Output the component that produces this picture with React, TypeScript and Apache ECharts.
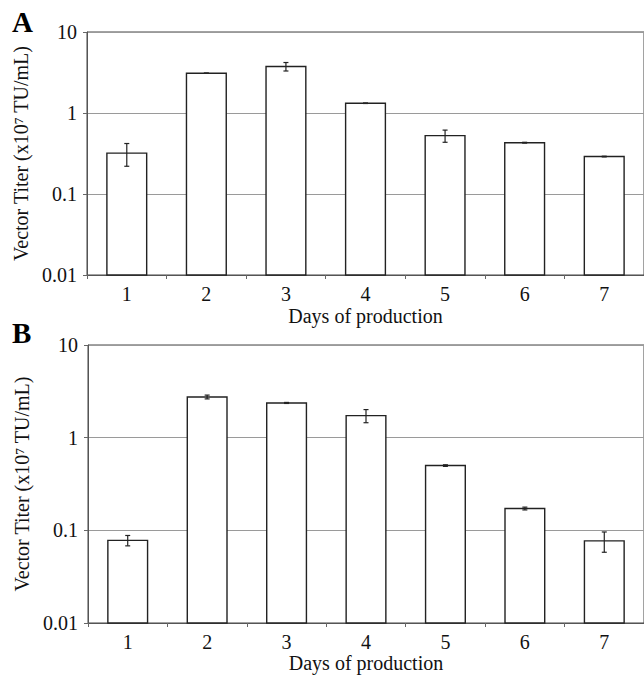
import React, { useEffect, useRef } from "react";
import * as echarts from "echarts";

const days = ["1", "2", "3", "4", "5", "6", "7"];
const titerA = [0.32, 3.1, 3.75, 1.32, 0.525, 0.43, 0.29];
const errA = [0.1, 0.02, 0.45, 0.01, 0.09, 0.005, 0.003];
const titerB = [0.078, 2.75, 2.37, 1.73, 0.5, 0.172, 0.077];
const errB = [0.01, 0.13, 0.03, 0.28, 0.01, 0.006, 0.019];
const yTicks = [0.01, 0.1, 1, 10];

const FONT = "'Liberation Serif', 'Times New Roman', serif";
const Y_MIN = yTicks[0];
const Y_MAX = yTicks[yTicks.length - 1];

function renderBar(params: any, api: any) {
  const x = api.value(0);
  const v = api.value(1);
  const e = api.value(2);
  const top = api.coord([x, v]);
  const base = api.coord([x, Y_MIN]);
  const bw = api.size([1, 1])[0] * 0.5;
  const hi = api.coord([x, v + e]);
  const lo = api.coord([x, Math.max(v - e, Y_MIN)]);
  const cap = 2.5;
  const errStyle = { stroke: "#222", lineWidth: 1.2 };
  return {
    type: "group",
    children: [
      {
        type: "rect",
        shape: { x: top[0] - bw / 2, y: top[1], width: bw, height: base[1] - top[1] },
        style: { fill: "#ffffff", stroke: "#222", lineWidth: 1.4 },
      },
      { type: "line", shape: { x1: top[0], y1: hi[1], x2: top[0], y2: lo[1] }, style: errStyle },
      { type: "line", shape: { x1: top[0] - cap, y1: hi[1], x2: top[0] + cap, y2: hi[1] }, style: errStyle },
      { type: "line", shape: { x1: top[0] - cap, y1: lo[1], x2: top[0] + cap, y2: lo[1] }, style: errStyle },
    ],
  };
}

function xAxisFor(gridIndex: number, nameGap: number) {
  return {
    type: "category",
    gridIndex,
    data: days,
    boundaryGap: true,
    axisLine: { show: true, lineStyle: { color: "#555", width: 1 } },
    axisTick: { show: true, length: 4, lineStyle: { color: "#666" } },
    axisLabel: { color: "#111", fontFamily: FONT, fontSize: 20, margin: 9 },
    name: "Days of production",
    nameLocation: "middle",
    nameGap,
    nameTextStyle: { color: "#111", fontFamily: FONT, fontSize: 20 },
    splitLine: { show: false },
  };
}

function yAxisFor(gridIndex: number) {
  return {
    type: "log",
    logBase: 10,
    gridIndex,
    min: Y_MIN,
    max: Y_MAX,
    axisLine: { show: true, lineStyle: { color: "#555", width: 1 } },
    axisTick: { show: true, length: 4, lineStyle: { color: "#666" } },
    axisLabel: {
      color: "#111",
      fontFamily: FONT,
      fontSize: 20,
      margin: 10,
      formatter: (v: number) => {
        const t = yTicks.find((k) => Math.abs(k - v) / k < 1e-6);
        return t !== undefined ? String(t) : "";
      },
    },
    minorTick: { show: false },
    splitLine: { show: true, lineStyle: { color: "#9a9a9a", width: 1 } },
    name: "Vector Titer (x10\u2077 TU/mL)",
    nameLocation: "middle",
    nameGap: 46,
    nameTextStyle: { color: "#111", fontFamily: FONT, fontSize: 20 },
  };
}

export default function App() {
  const ref = useRef<HTMLDivElement>(null);
  useEffect(() => {
    if (!ref.current) return;
    const chart = echarts.init(ref.current, undefined, { renderer: "svg" });
    const dataA = days.map((_, i) => [i, titerA[i], errA[i]]);
    const dataB = days.map((_, i) => [i, titerB[i], errB[i]]);
    chart.setOption({
      animation: false,
      backgroundColor: "#ffffff",
      grid: [
        { left: 87, top: 32, width: 559, height: 243, show: true, borderColor: "#444", borderWidth: 1, backgroundColor: "transparent" },
        { left: 88, top: 345, width: 558, height: 278, show: true, borderColor: "#444", borderWidth: 1, backgroundColor: "transparent" },
      ],
      xAxis: [xAxisFor(0, 31), xAxisFor(1, 30)],
      yAxis: [yAxisFor(0), yAxisFor(1)],
      series: [
        {
          type: "custom",
          xAxisIndex: 0,
          yAxisIndex: 0,
          data: dataA,
          encode: { x: 0, y: 1 },
          renderItem: renderBar,
          clip: false,
        },
        {
          type: "custom",
          xAxisIndex: 1,
          yAxisIndex: 1,
          data: dataB,
          encode: { x: 0, y: 1 },
          renderItem: renderBar,
          clip: false,
        },
      ],
      graphic: [
        { type: "text", left: 12, top: 7, style: { text: "A", fontFamily: FONT, fontSize: 29, fontWeight: "bold", fill: "#000" } },
        { type: "text", left: 12, top: 318, style: { text: "B", fontFamily: FONT, fontSize: 29, fontWeight: "bold", fill: "#000" } },
      ],
    });
    return () => chart.dispose();
  }, []);
  return (
    <div
      ref={ref}
      style={{ position: "absolute", left: 0, top: 0, width: 644, height: 676 }}
    />
  );
}
